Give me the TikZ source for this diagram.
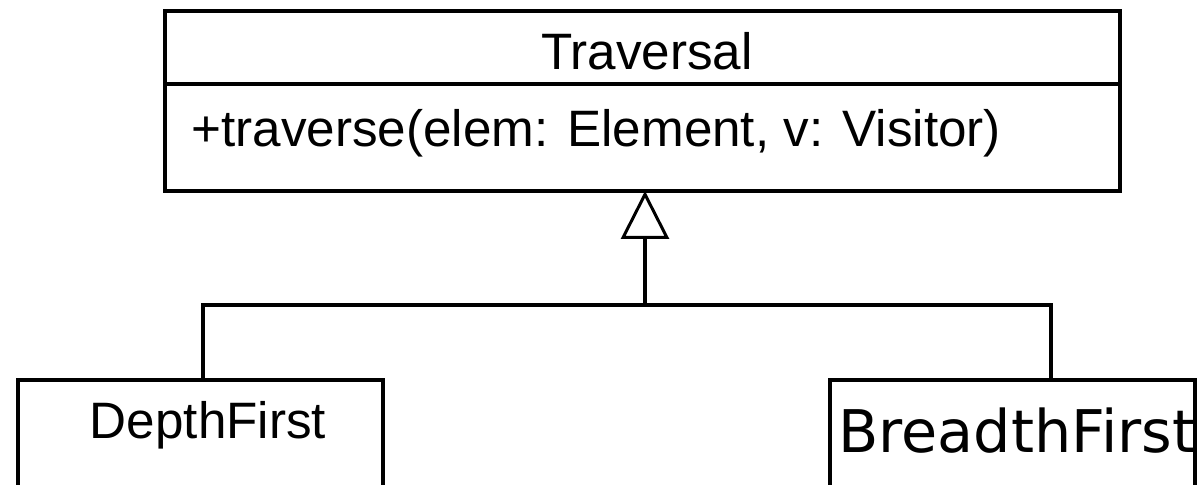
\documentclass[tikz,border=0pt]{standalone}
\usepackage{fontspec}
\setmainfont{Liberation Sans}
\newfontfamily\dejavu{DejaVu Sans}
\usetikzlibrary{arrows.meta}
\tikzset{
	classbox/.style={draw=black, line width=2pt, inner sep=0pt, outer sep=0pt},
	umlline/.style={draw=black, line width=2pt},
	classtext/.style={inner sep=0pt, font=\fontsize{25.6pt}{30pt}\selectfont}
}
\begin{document}
\begin{tikzpicture}[x=0.5pt, y=-0.5pt]
	  \useasboundingbox (0,0) rectangle (1201,485);
	  \clip (0,0) rectangle (1201,485);

	  \node[classbox, minimum width=477.5pt, minimum height=90pt] (trav) at (642.5,101) {};
	  \draw[umlline] (trav.west |- 0,84) -- (trav.east |- 0,84);
	  \node[classtext, anchor=base] (travname) at (647,70) {Traversal};
	  \node[classtext, anchor=base west] (travop) at (191,147) {+traverse(elem: Element, v: Visitor)};

	  \node[classbox, minimum width=182.5pt, minimum height=70pt] (depth) at (200.5,450) {};
	  \node[classbox, minimum width=182.5pt, minimum height=70pt] (breadth) at (1012.5,450) {};
	  \node[classtext, anchor=base] (depthname) at (208,439) {DepthFirst};
	  \node[inner sep=0pt, anchor=base west, font=\dejavu\fontsize{29.4pt}{34pt}\selectfont] (breadthname) at (838,453) {BreadthFirst};

	  \coordinate (joint) at (645,305);
	  \draw[umlline] ([xshift=1.25pt]depth.north) |- (joint) -| ([xshift=19.25pt]breadth.north);
	  \draw[umlline, -{Triangle[open, length=24pt, width=24pt, line width=1.5pt]}] (joint) -- (joint |- trav.south);
	\end{tikzpicture}
\end{document}
